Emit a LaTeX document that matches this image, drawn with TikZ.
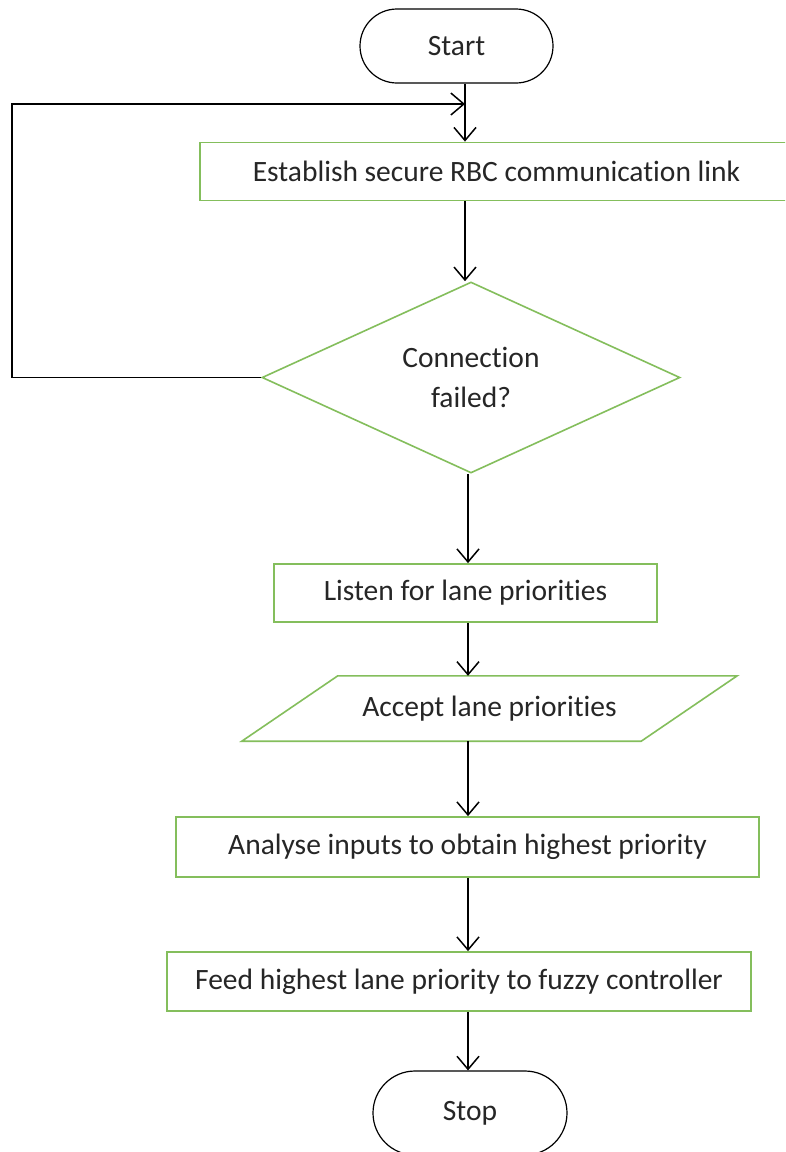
\documentclass[tikz,border=0pt]{standalone}
\usepackage{fontspec}
\setmainfont{Carlito}[Ligatures=NoCommon]
\usetikzlibrary{arrows.meta,shapes.geometric,calc}

\definecolor{boxgreen}{RGB}{132,190,92}
\definecolor{inktext}{RGB}{38,38,38}

\tikzset{
  every node/.style={font=\fontsize{29.5}{40}\selectfont, text=inktext, inner sep=0pt},
  terminal/.style={draw=black, line width=1.2pt, rounded corners=#1, fill=white},
  procbox/.style={draw=boxgreen, line width=1.8pt, fill=white},
  decision/.style={diamond, draw=boxgreen, line width=1.6pt, fill=white, align=center,
    aspect=2.19},
  flow/.style={draw=black, line width=1.5pt, -{Straight Barb[length=13pt,width=22pt,line width=1.5pt]}},
}

\begin{document}
\begin{tikzpicture}[x=1pt, y=-1pt]
  \useasboundingbox (0,0) rectangle (785,1152);
  \clip (0,0) rectangle (785,1152);
  \fill[white] (0,0) rectangle (785,1152);

  % flow nodes
  \node[terminal=37pt, minimum width=193pt, minimum height=74pt] (start) at (456.5,46)
    {\raisebox{-3pt}{Start}};
  \node[procbox, minimum width=593pt, minimum height=58pt] (link) at (496.5,171.5)
    {Establish secure RBC communication link};
  \node[decision, minimum width=418pt, minimum height=191pt] (fail) at (471,377.5)
    {\raisebox{-2pt}{\shortstack{Connection\\[16pt]failed?}}};
  \node[procbox, minimum width=383pt, minimum height=58pt] (listen) at (465.5,593)
    {Listen for lane priorities};
  \node[minimum width=495pt, minimum height=65pt] (accept) at (489.5,708.5)
    {Accept lane priorities};
  \draw[draw=boxgreen, line width=1.6pt, line join=miter]
    (accept.south west) -- ([xshift=-96pt]accept.south east) -- (accept.north east)
    -- ([xshift=96pt]accept.north west) -- cycle;
  \node[procbox, minimum width=583pt, minimum height=60pt] (analyse) at (467.5,847)
    {Analyse inputs to obtain highest priority};
  \node[procbox, minimum width=584pt, minimum height=59pt] (feed) at (459,981.5)
    {Feed highest lane priority to fuzzy controller};
  \node[terminal=42pt, minimum width=194pt, minimum height=84pt] (stop) at (470,1113)
    {\raisebox{2pt}{Stop}};

  % connector columns and loop corner
  \coordinate (colA) at (465,0);
  \coordinate (colB) at (468,0);
  \coordinate (loopL) at (12,104);

  % connectors
  \draw[flow] (start.south -| colA) -- (link.north -| colA);
  \draw[flow] (link.south -| colA) -- (fail.north -| colA);
  \draw[flow] (fail.west) -| (loopL) -- (loopL -| colA);
  \draw[flow] (fail.south -| colB) -- (listen.north -| colB);
  \draw[flow] (listen.south -| colB) -- (accept.north -| colB);
  \draw[flow] (accept.south -| colB) -- (analyse.north -| colB);
  \draw[flow] (analyse.south -| colB) -- (feed.north -| colB);
  \draw[flow] (feed.south -| colB) -- (stop.north -| colB);
\end{tikzpicture}
\end{document}
